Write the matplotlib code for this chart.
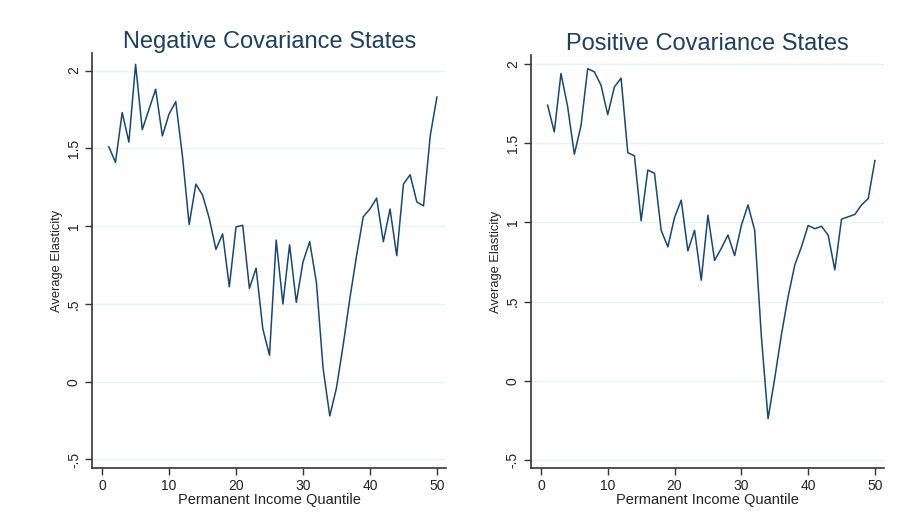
import numpy as np
import matplotlib
matplotlib.use("Agg")
import matplotlib.pyplot as plt

plt.rcParams['font.family'] = ['Liberation Sans', 'DejaVu Sans']

# quantiles 1..50 of permanent income
quantile = np.arange(1, 51)

# average elasticity by quantile, negative covariance states
neg_elast = [1.51, 1.41, 1.73, 1.54, 2.04, 1.62, 1.75, 1.88, 1.58, 1.72,
             1.80, 1.45, 1.01, 1.27, 1.20, 1.05, 0.85, 0.95, 0.61, 0.995,
             1.005, 0.60, 0.73, 0.34, 0.17, 0.91, 0.50, 0.88, 0.51, 0.77,
             0.90, 0.64, 0.086, -0.22, -0.04, 0.235, 0.535, 0.81, 1.06, 1.11,
             1.18, 0.90, 1.11, 0.81, 1.27, 1.33, 1.155, 1.13, 1.58, 1.83]

# average elasticity by quantile, positive covariance states
pos_elast = [1.74, 1.57, 1.94, 1.73, 1.43, 1.61, 1.97, 1.95, 1.865, 1.68,
             1.855, 1.91, 1.44, 1.42, 1.01, 1.33, 1.31, 0.95, 0.845, 1.03,
             1.14, 0.82, 0.95, 0.635, 1.045, 0.76, 0.835, 0.92, 0.79, 0.98,
             1.11, 0.95, 0.28, -0.24, 0.015, 0.29, 0.53, 0.73, 0.845, 0.98,
             0.96, 0.975, 0.92, 0.70, 1.02, 1.035, 1.05, 1.11, 1.15, 1.39]

yticks = [-0.5, 0, 0.5, 1, 1.5, 2]
ytick_labels = ["-.5", "0", ".5", "1", "1.5", "2"]
xticks = [0, 10, 20, 30, 40, 50]

line_color = "#1a476f"
title_color = "#1f3f5f"

fig = plt.figure(figsize=(9.06, 5.31), dpi=100)
ax1 = fig.add_axes([0.1016, 0.118, 0.391, 0.782])
ax2 = fig.add_axes([0.586, 0.118, 0.390, 0.778])

panels = [
    (ax1, neg_elast, "Negative Covariance States", (-0.557, 2.112)),
    (ax2, pos_elast, "Positive Covariance States", (-0.553, 2.055)),
]

for ax, vals, title, ylim in panels:
    ax.plot(quantile, vals, color=line_color, lw=1.1)
    ax.set_xlim(-1.5, 51.4)
    ax.set_ylim(*ylim)
    ax.set_xticks(xticks)
    ax.set_yticks(yticks)
    ax.set_yticklabels(ytick_labels, rotation=90, va="center")
    ax.grid(axis="y", color="#eaf2f3", lw=1.0)
    ax.set_axisbelow(True)
    for side in ["top", "right"]:
        ax.spines[side].set_visible(False)
    for side in ["left", "bottom"]:
        ax.spines[side].set_color("#333333")
        ax.spines[side].set_linewidth(1.2)
    ax.tick_params(axis="both", direction="out", length=5, width=1.0,
                   color="#333333", labelsize=10, labelcolor="#222222", pad=3)
    ax.set_title(title, fontsize=17, color=title_color, pad=3)
    ax.set_xlabel("Permanent Income Quantile", fontsize=10.5, color="#222222", labelpad=0)
    ax.set_ylabel("Average Elasticity", fontsize=9.3, color="#222222", labelpad=3)

fig.savefig("out.png", dpi=100, facecolor="white")
